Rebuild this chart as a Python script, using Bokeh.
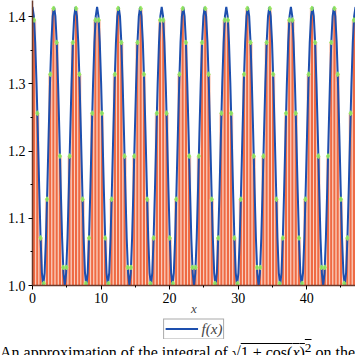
from bokeh.plotting import figure
from bokeh.models import FixedTicker, Legend, LegendItem, Div, Range1d, ColumnDataSource
from bokeh.layouts import column
from bokeh.embed import file_html
from bokeh.resources import INLINE

# ---- data ----
curve_x = [
    0.000, 0.196, 0.393, 0.589, 0.785, 0.982, 1.178, 1.374, 1.571, 1.767, 1.963, 2.160, 2.356, 2.553, 2.749, 2.945,
    3.142, 3.338, 3.534, 3.731, 3.927, 4.123, 4.320, 4.516, 4.712, 4.909, 5.105, 5.301, 5.498, 5.694, 5.890, 6.087,
    6.283, 6.480, 6.676, 6.872, 7.069, 7.265, 7.461, 7.658, 7.854, 8.050, 8.247, 8.443, 8.639, 8.836, 9.032, 9.228,
    9.425, 9.621, 9.817, 10.014, 10.210, 10.407, 10.603, 10.799, 10.996, 11.192, 11.388, 11.585, 11.781, 11.977, 12.174, 12.370,
    12.566, 12.763, 12.959, 13.155, 13.352, 13.548, 13.744, 13.941, 14.137, 14.334, 14.530, 14.726, 14.923, 15.119, 15.315, 15.512,
    15.708, 15.904, 16.101, 16.297, 16.493, 16.690, 16.886, 17.082, 17.279, 17.475, 17.671, 17.868, 18.064, 18.261, 18.457, 18.653,
    18.850, 19.046, 19.242, 19.439, 19.635, 19.831, 20.028, 20.224, 20.420, 20.617, 20.813, 21.009, 21.206, 21.402, 21.598, 21.795,
    21.991, 22.188, 22.384, 22.580, 22.777, 22.973, 23.169, 23.366, 23.562, 23.758, 23.955, 24.151, 24.347, 24.544, 24.740, 24.936,
    25.133, 25.329, 25.525, 25.722, 25.918, 26.114, 26.311, 26.507, 26.704, 26.900, 27.096, 27.293, 27.489, 27.685, 27.882, 28.078,
    28.274, 28.471, 28.667, 28.863, 29.060, 29.256, 29.452, 29.649, 29.845, 30.041, 30.238, 30.434, 30.631, 30.827, 31.023, 31.220,
    31.416, 31.612, 31.809, 32.005, 32.201, 32.398, 32.594, 32.790, 32.987, 33.183, 33.379, 33.576, 33.772, 33.968, 34.165, 34.361,
    34.558, 34.754, 34.950, 35.147, 35.343, 35.539, 35.736, 35.932, 36.128, 36.325, 36.521, 36.717, 36.914, 37.110, 37.306, 37.503,
    37.699, 37.895, 38.092, 38.288, 38.485, 38.681, 38.877, 39.074, 39.270, 39.466, 39.663, 39.859, 40.055, 40.252, 40.448, 40.644,
    40.841, 41.037, 41.233, 41.430, 41.626, 41.823, 42.019, 42.215, 42.412, 42.608, 42.804, 43.001, 43.197, 43.393, 43.590, 43.786,
    43.982, 44.179, 44.375, 44.571, 44.768, 44.964, 45.160, 45.357, 45.553, 45.750, 45.946, 46.142, 46.339, 46.535, 46.731, 46.928,
    47.124,
]
curve_y = [
    1.4142, 1.4007, 1.3615, 1.3005, 1.2247, 1.1440, 1.0707, 1.0189, 1.0000, 1.0189, 1.0707, 1.1440, 1.2247, 1.3005, 1.3615, 1.4007,
    1.4142, 1.4007, 1.3615, 1.3005, 1.2247, 1.1440, 1.0707, 1.0189, 1.0000, 1.0189, 1.0707, 1.1440, 1.2247, 1.3005, 1.3615, 1.4007,
    1.4142, 1.4007, 1.3615, 1.3005, 1.2247, 1.1440, 1.0707, 1.0189, 1.0000, 1.0189, 1.0707, 1.1440, 1.2247, 1.3005, 1.3615, 1.4007,
    1.4142, 1.4007, 1.3615, 1.3005, 1.2247, 1.1440, 1.0707, 1.0189, 1.0000, 1.0189, 1.0707, 1.1440, 1.2247, 1.3005, 1.3615, 1.4007,
    1.4142, 1.4007, 1.3615, 1.3005, 1.2247, 1.1440, 1.0707, 1.0189, 1.0000, 1.0189, 1.0707, 1.1440, 1.2247, 1.3005, 1.3615, 1.4007,
    1.4142, 1.4007, 1.3615, 1.3005, 1.2247, 1.1440, 1.0707, 1.0189, 1.0000, 1.0189, 1.0707, 1.1440, 1.2247, 1.3005, 1.3615, 1.4007,
    1.4142, 1.4007, 1.3615, 1.3005, 1.2247, 1.1440, 1.0707, 1.0189, 1.0000, 1.0189, 1.0707, 1.1440, 1.2247, 1.3005, 1.3615, 1.4007,
    1.4142, 1.4007, 1.3615, 1.3005, 1.2247, 1.1440, 1.0707, 1.0189, 1.0000, 1.0189, 1.0707, 1.1440, 1.2247, 1.3005, 1.3615, 1.4007,
    1.4142, 1.4007, 1.3615, 1.3005, 1.2247, 1.1440, 1.0707, 1.0189, 1.0000, 1.0189, 1.0707, 1.1440, 1.2247, 1.3005, 1.3615, 1.4007,
    1.4142, 1.4007, 1.3615, 1.3005, 1.2247, 1.1440, 1.0707, 1.0189, 1.0000, 1.0189, 1.0707, 1.1440, 1.2247, 1.3005, 1.3615, 1.4007,
    1.4142, 1.4007, 1.3615, 1.3005, 1.2247, 1.1440, 1.0707, 1.0189, 1.0000, 1.0189, 1.0707, 1.1440, 1.2247, 1.3005, 1.3615, 1.4007,
    1.4142, 1.4007, 1.3615, 1.3005, 1.2247, 1.1440, 1.0707, 1.0189, 1.0000, 1.0189, 1.0707, 1.1440, 1.2247, 1.3005, 1.3615, 1.4007,
    1.4142, 1.4007, 1.3615, 1.3005, 1.2247, 1.1440, 1.0707, 1.0189, 1.0000, 1.0189, 1.0707, 1.1440, 1.2247, 1.3005, 1.3615, 1.4007,
    1.4142, 1.4007, 1.3615, 1.3005, 1.2247, 1.1440, 1.0707, 1.0189, 1.0000, 1.0189, 1.0707, 1.1440, 1.2247, 1.3005, 1.3615, 1.4007,
    1.4142, 1.4007, 1.3615, 1.3005, 1.2247, 1.1440, 1.0707, 1.0189, 1.0000, 1.0189, 1.0707, 1.1440, 1.2247, 1.3005, 1.3615, 1.4007,
    1.4142,
]

bar_mid = [
    0.2356, 0.7069, 1.1781, 1.6493, 2.1206, 2.5918, 3.0631, 3.5343, 4.0055, 4.4768,
    4.9480, 5.4193, 5.8905, 6.3617, 6.8330, 7.3042, 7.7754, 8.2467, 8.7179, 9.1892,
    9.6604, 10.1316, 10.6029, 11.0741, 11.5454, 12.0166, 12.4878, 12.9591, 13.4303, 13.9016,
    14.3728, 14.8440, 15.3153, 15.7865, 16.2578, 16.7290, 17.2002, 17.6715, 18.1427, 18.6140,
    19.0852, 19.5564, 20.0277, 20.4989, 20.9701, 21.4414, 21.9126, 22.3839, 22.8551, 23.3263,
    23.7976, 24.2688, 24.7401, 25.2113, 25.6825, 26.1538, 26.6250, 27.0962, 27.5675, 28.0387,
    28.5100, 28.9812, 29.4524, 29.9237, 30.3949, 30.8662, 31.3374, 31.8086, 32.2799, 32.7511,
    33.2224, 33.6936, 34.1648, 34.6361, 35.1073, 35.5785, 36.0498, 36.5210, 36.9923, 37.4635,
    37.9347, 38.4060, 38.8772, 39.3485, 39.8197, 40.2909, 40.7622, 41.2334, 41.7047, 42.1759,
    42.6471, 43.1184, 43.5896, 44.0608, 44.5321, 45.0033, 45.4746, 45.9458, 46.4170, 46.8883,
]
bar_height = [
    1.3948, 1.2563, 1.0707, 1.0031, 1.1283, 1.3142, 1.4120, 1.3615, 1.1924, 1.0269,
    1.0269, 1.1924, 1.3615, 1.4120, 1.3142, 1.1283, 1.0031, 1.0707, 1.2563, 1.3948,
    1.3948, 1.2563, 1.0707, 1.0031, 1.1283, 1.3142, 1.4120, 1.3615, 1.1924, 1.0269,
    1.0269, 1.1924, 1.3615, 1.4120, 1.3142, 1.1283, 1.0031, 1.0707, 1.2563, 1.3948,
    1.3948, 1.2563, 1.0707, 1.0031, 1.1283, 1.3142, 1.4120, 1.3615, 1.1924, 1.0269,
    1.0269, 1.1924, 1.3615, 1.4120, 1.3142, 1.1283, 1.0031, 1.0707, 1.2563, 1.3948,
    1.3948, 1.2563, 1.0707, 1.0031, 1.1283, 1.3142, 1.4120, 1.3615, 1.1924, 1.0269,
    1.0269, 1.1924, 1.3615, 1.4120, 1.3142, 1.1283, 1.0031, 1.0707, 1.2563, 1.3948,
    1.3948, 1.2563, 1.0707, 1.0031, 1.1283, 1.3142, 1.4120, 1.3615, 1.1924, 1.0269,
    1.0269, 1.1924, 1.3615, 1.4120, 1.3142, 1.1283, 1.0031, 1.0707, 1.2563, 1.3948,
]
bar_width = 0.4712

x_ticks = [0, 10, 20, 30, 40]
x_minor = [5, 15, 25, 35, 45]
y_ticks = [1.0, 1.1, 1.2, 1.3, 1.4]
y_minor = [1.05, 1.15, 1.25, 1.35]
y_tick_labels = ["1.0", "1.1", "1.2", "1.3", "1.4"]
x_label = "x"
legend_label = "f(x)"
caption_html = ('An approximation of the integral of '
                '&radic;<span style="text-decoration:overline">1 + cos(<i>x</i>)<sup>2</sup></span>'
                ' on the interval [0, 15 &pi;] using a midpoint Riemann sum is 57.30.')

SERIF = "Liberation Serif"
BLUE = "#1D4FAE"

p = figure(frame_width=323, frame_height=285, x_range=Range1d(0, 47.124), y_range=Range1d(1.0, 1.4238),
           output_backend="svg", toolbar_location=None,
           min_border_left=32, min_border_right=0, min_border_top=0, min_border_bottom=0)
p.grid.visible = False
p.outline_line_color = None
p.background_fill_color = "white"

bars = ColumnDataSource(dict(x=bar_mid, top=bar_height))
p.vbar(x="x", top="top", bottom=0.9, width=bar_width, source=bars,
       fill_color="#EF6A43", line_color="#FAD2C2", line_width=1)

p.line(curve_x, curve_y, line_color=BLUE, line_width=2)
p.scatter(x="x", y="top", source=bars, marker="diamond", size=5,
          fill_color="#98F05A", line_color="#98F05A", alpha=0.85)

for ax in (p.xaxis[0], p.yaxis[0]):
    ax.axis_line_color = "#6B3A2C"
    ax.axis_line_width = 1.5
    ax.major_tick_line_color = "black"
    ax.minor_tick_line_color = "black"
    ax.major_tick_in = 0
    ax.major_tick_out = 4
    ax.minor_tick_in = 0
    ax.minor_tick_out = 2
    ax.major_label_text_font = SERIF
    ax.major_label_text_font_size = "14px"
    ax.major_label_text_color = "black"
    ax.major_label_standoff = 3

p.xaxis.ticker = FixedTicker(ticks=x_ticks, minor_ticks=x_minor)
p.yaxis.ticker = FixedTicker(ticks=y_ticks, minor_ticks=y_minor)
p.yaxis.major_label_overrides = {t: l for t, l in zip(y_ticks, y_tick_labels)}
p.xaxis.axis_label = x_label
p.xaxis.axis_label_text_font = SERIF
p.xaxis.axis_label_text_font_style = "italic"
p.xaxis.axis_label_text_font_size = "13px"
p.xaxis.axis_label_standoff = -5

# legend strip below the plot
lg = figure(width=355, height=21, x_range=Range1d(0, 1), y_range=Range1d(5, 6),
            output_backend="svg", toolbar_location=None, x_axis_type=None, y_axis_type=None,
            min_border_left=0, min_border_right=0, min_border_top=0, min_border_bottom=0)
lg.grid.visible = False
lg.outline_line_color = None
lg_line = lg.line(curve_x, curve_y, line_color=BLUE, line_width=2)
legend = Legend(items=[LegendItem(label=legend_label, renderers=[lg_line])],
                orientation="horizontal", location="center",
                label_text_font=SERIF, label_text_font_style="italic",
                label_text_font_size="15px", glyph_width=33, glyph_height=12,
                label_height=12, label_standoff=4, padding=1, margin=0, spacing=0,
                border_line_color="#555555", border_line_width=1.5)
lg.add_layout(legend, "center")

cap = Div(text=caption_html, width=355, height=17, margin=(0, 0, 0, 0),
          styles={"font-family": SERIF, "font-size": "16px", "white-space": "nowrap",
                  "overflow": "hidden", "line-height": "17px", "color": "black"})

layout = column(p, lg, cap, spacing=0)
open("out.html", "w").write(file_html(layout, INLINE))
